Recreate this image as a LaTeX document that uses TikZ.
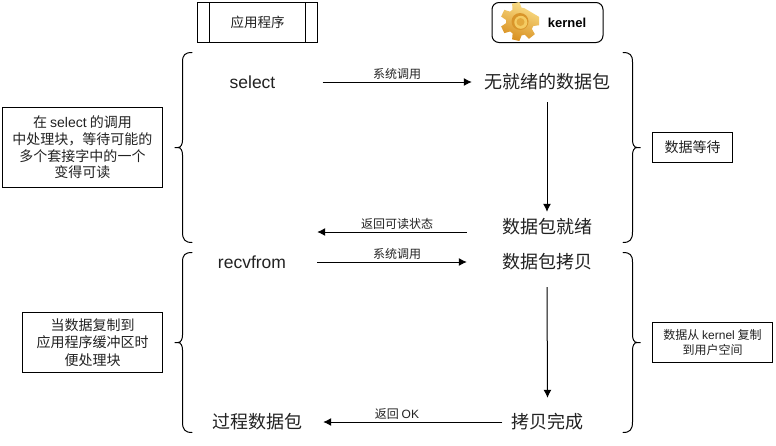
\documentclass[tikz,border=0pt]{standalone}
\usepackage{fontspec}
\setmainfont{Liberation Sans}
\newfontfamily\cjk{Noto Sans CJK SC}
\usetikzlibrary{arrows.meta}
\definecolor{txt}{HTML}{222222}
\definecolor{gearhi}{HTML}{FBE08A}
\definecolor{gearlo}{HTML}{D88F1F}
\definecolor{gearhole}{HTML}{D9952A}
\definecolor{gearring}{HTML}{F4CB62}
\definecolor{gearcore}{HTML}{E3A93C}
\newcommand{\fs}[2]{\fontsize{#1}{#2}\selectfont}
\tikzset{
  flow/.style={draw=black,line width=1pt,-{Latex[length=8pt,width=8pt]}},
  brace/.style={draw=black,line width=1pt,line cap=round},
  step label/.style={inner sep=0pt,text=txt,font=\fs{18}{22}\cjk,anchor=center},
  edge label/.style={inner sep=0pt,text=txt,font=\fs{12}{14}\cjk,anchor=center},
  note/.style={draw=black,line width=1pt,inner sep=0pt,text=txt,align=center,anchor=center},
}
\begin{document}
\begin{tikzpicture}[x=1pt,y=-1pt]
\useasboundingbox[fill=white] (0,0) rectangle (776,445);

% header: application
\node[note,minimum width=120pt,minimum height=40pt,font=\fs{13.5}{16}\cjk] (app) at (257.5,22.5) {应用程序};
\draw[line width=1pt] (209.5,2.5) -- (209.5,42.5) (305.5,2.5) -- (305.5,42.5);

% header: kernel
\node[draw=black,line width=1pt,rounded corners=7pt,minimum width=111pt,minimum height=40pt,inner sep=0pt] (kernel) at (547.5,22.5) {};
\node[inner sep=0pt,font=\fs{13}{15}\bfseries] (kerneltxt) at (567,22.5) {kernel};
\begin{scope}[shift={(520,21.5)}]
  \path[top color=gearhi,bottom color=gearlo,shading angle=-20]
    (-14:19.5) \foreach \a in {0,51.43,...,308} { -- (\a-11:19.5) -- (\a+11:19.5) -- (\a+19:14) -- (\a+32:14) } -- cycle;
  \fill[gearhole] (0,0) circle (8.5);
  \fill[gearring] (0.8,0.8) circle (6.5);
  \fill[gearcore] (0.5,0.5) circle (4);
\end{scope}

% step nodes (sized so that their borders are the connector ends)
\node[step label,font=\fs{17.5}{20},minimum width=140pt] (select) at (252.5,82) {select};
\node[step label,minimum width=150pt,minimum height=40pt] (nodata) at (547,82) {无就绪的数据包};
\node[step label,minimum width=160pt,minimum height=30pt] (ready) at (547,227) {数据包就绪};
\node[step label,font=\fs{17.5}{20},minimum width=130pt] (recv) at (252,262) {recvfrom};
\node[step label,minimum width=160pt,minimum height=50pt] (copy) at (547,262) {数据包拷贝};
\node[step label,minimum width=90pt,minimum height=48pt] (done) at (547.5,422) {拷贝完成};
\node[step label,minimum width=132pt] (proc) at (257,422) {过程数据包};

% connectors
\draw[flow] (select.east) -- (nodata.west);
\draw[flow] (nodata.south) -- (ready.north);
\draw[flow] ([yshift=-5pt]ready.west) -- ([yshift=-5pt]ready.west -| recv.east);
\draw[flow] (recv.east) -- (copy.west);
\draw[flow] (copy.south) -- (done.north);
\draw[flow] (done.west) -- (proc.east);

% connector labels
\node[edge label] (l1) at (397,74) {系统调用};
\node[edge label] (l2) at (397,224) {返回可读状态};
\node[edge label] (l3) at (397,254) {系统调用};
\node[edge label] (l4) at (397,414) {返回 {\fontspec{Liberation Sans}OK}};

% braces
\draw[brace] (192,52.5) .. controls (185,52.5) and (182.5,55) .. (182.5,62)
  -- (182.5,140) .. controls (182.5,144) and (181,147.5) .. (178,147.5) -- (174.5,147.5)
  -- (178,147.5) .. controls (181,147.5) and (182.5,151) .. (182.5,155)
  -- (182.5,232) .. controls (182.5,239.5) and (185,242.5) .. (192,242.5);
\draw[brace] (192,252.5) .. controls (185,252.5) and (182.5,255) .. (182.5,262)
  -- (182.5,335) .. controls (182.5,339) and (181,342.5) .. (178,342.5) -- (174.5,342.5)
  -- (178,342.5) .. controls (181,342.5) and (182.5,346) .. (182.5,350)
  -- (182.5,422) .. controls (182.5,429.5) and (185,432.5) .. (192,432.5);
\draw[brace] (623,52.5) .. controls (630,52.5) and (632.5,55) .. (632.5,62)
  -- (632.5,140) .. controls (632.5,144) and (634,147.5) .. (637,147.5) -- (640.5,147.5)
  -- (637,147.5) .. controls (634,147.5) and (632.5,151) .. (632.5,155)
  -- (632.5,232) .. controls (632.5,239.5) and (630,242.5) .. (623,242.5);
\draw[brace] (623,252.5) .. controls (630,252.5) and (632.5,255) .. (632.5,262)
  -- (632.5,335) .. controls (632.5,339) and (634,342.5) .. (637,342.5) -- (640.5,342.5)
  -- (637,342.5) .. controls (634,342.5) and (632.5,346) .. (632.5,350)
  -- (632.5,422) .. controls (632.5,429.5) and (630,432.5) .. (623,432.5);

% notes
\node[note,minimum width=160pt,minimum height=80pt,font=\fs{14}{16.7}\cjk] (n1) at (82.5,147.5)
  {在 {\fontspec{Liberation Sans}select} 的调用\\中处理块，等待可能的\\多个套接字中的一个\\变得可读};
\node[note,minimum width=140pt,minimum height=60pt,font=\fs{14}{17.5}\cjk] (n2) at (92.5,342.5)
  {当数据复制到\\应用程序缓冲区时\\便处理块};
\node[note,minimum width=80pt,minimum height=30pt,font=\fs{14}{16}\cjk] (n3) at (692.5,147.5) {数据等待};
\node[note,minimum width=120pt,minimum height=40pt,font=\fs{12}{15}\cjk] (n4) at (712.5,342.5)
  {数据从 {\fontspec{Liberation Sans}kernel} 复制\\到用户空间};
\end{tikzpicture}
\end{document}
